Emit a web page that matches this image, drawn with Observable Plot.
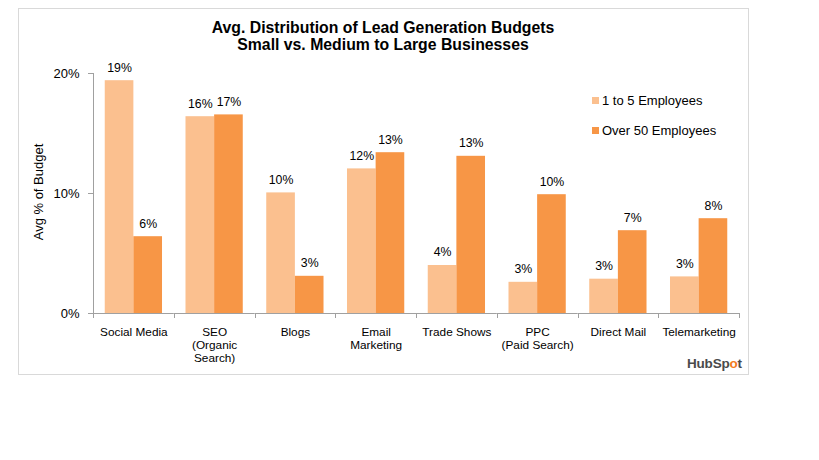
<!DOCTYPE html>
<html><head><meta charset="utf-8">
<script src="https://cdn.jsdelivr.net/npm/d3@7"></script>
<script src="https://cdn.jsdelivr.net/npm/@observablehq/plot@0.6"></script>
<style>
body{margin:0;background:#fff;font-family:Arial,"Liberation Sans",sans-serif;color:#000}
#wrap{position:relative;width:819px;height:460px;overflow:hidden}
#box{position:absolute;left:18px;top:8px;width:731px;height:367px;box-sizing:border-box;border:1px solid #d9d9d9}
#title{position:absolute;left:183px;width:400px;top:19px;text-align:center;font-weight:bold;font-size:15.8px;line-height:17px;white-space:nowrap}
#ytitle{position:absolute;left:38px;top:192px;transform:translate(-50%,-50%) rotate(-90deg);font-size:13px;white-space:nowrap}
#legend{position:absolute;left:592px;top:92px;font-size:13px}
#legend .item{position:relative;height:30px;line-height:17px;white-space:nowrap}
#legend .sw{display:inline-block;width:7px;height:7px;margin-right:3px;vertical-align:1px}
#logo{position:absolute;left:687px;top:356px;font-weight:bold;font-size:13.5px;color:#4a4a4a;letter-spacing:-0.2px}
#logo span{color:#f47b20}
#chart{position:absolute;left:0;top:0}
#chart svg [aria-label^="y-axis"] path,#chart svg [aria-label^="y-axis"] line{stroke:#a0a0a0}
#chart svg [aria-label^="y-axis"] text{font-size:13px}
</style></head><body>
<div id="wrap">
  <div id="box"></div>
  <div id="title">Avg. Distribution of Lead Generation Budgets<br>Small vs. Medium to Large Businesses</div>
  <div id="ytitle">Avg % of Budget</div>
  <div id="chart"></div>
  <div id="legend"></div>
  <div id="logo">HubSp<span>o</span>t</div>
</div>
<script>
const categories = ["Social Media","SEO","Blogs","Email Marketing","Trade Shows","PPC","Direct Mail","Telemarketing"];
const categoryLabels = ["Social Media","SEO\n(Organic\nSearch)","Blogs","Email\nMarketing","Trade Shows","PPC\n(Paid Search)","Direct Mail","Telemarketing"];
const seriesNames = ["1 to 5 Employees","Over 50 Employees"];
const smallBiz = [19.4,16.4,10.05,12.05,4.0,2.6,2.86,3.05];
const largeBiz = [6.4,16.55,3.1,13.4,13.1,9.9,6.9,7.9];
const yTicks = [0,10,20];
const colors = ["#FBC08F","#F79646"];

const rows = categories.flatMap((c,i)=>[
  {category:c, series:seriesNames[0], value:smallBiz[i]},
  {category:c, series:seriesNames[1], value:largeBiz[i]}
]);
const catRows = categories.map((c,i)=>({category:c, label:categoryLabels[i]}));

const chart = Plot.plot({
  width: 819, height: 460,
  marginLeft: 93, marginRight: 80, marginTop: 73, marginBottom: 147,
  style: {fontFamily: "Arial, 'Liberation Sans', sans-serif", fontSize: "12px", color: "#000", background: "transparent", overflow: "visible"},
  fx: {domain: categories, padding: 0, round: false, axis: null},
  x: {domain: seriesNames, paddingInner: 0, paddingOuter: 0.41, round: false, axis: null},
  y: {domain: [0,20], ticks: yTicks, tickFormat: d => d + "%", tickSize: 5, tickPadding: 9, label: null},
  color: {domain: seriesNames, range: colors},
  marks: [
    Plot.barY(rows, {fx: "category", x: "series", y: "value", fill: "series"}),
    Plot.ruleY([0], {stroke: "#a0a0a0"}),
    Plot.text(rows, {fx: "category", x: "series", y: "value", text: d => Math.round(d.value) + "%", dy: -13, fontSize: 12.3}),
    Plot.text(catRows, {fx: "category", text: "label", frameAnchor: "bottom", lineAnchor: "top", dy: 13, fontSize: 11.8, lineHeight: 1.1})
  ]
});
document.getElementById("chart").appendChild(chart);

// axis line and category boundary ticks from the plot's own scales
const fxs = chart.scale("fx"), ys = chart.scale("y");
const x0 = fxs && fxs.range ? fxs.range[0] : 93;
const x1 = fxs && fxs.range ? fxs.range[1] : 739;
const y = d3.scaleLinear().domain(ys.domain).range(ys.range);
const step = (x1 - x0) / categories.length;
const g = d3.select(chart).append("g").attr("stroke", "#a0a0a0").attr("fill", "none");
g.append("line").attr("x1", x0 + 0.5).attr("x2", x0 + 0.5).attr("y1", y(20)).attr("y2", y(0));
d3.range(categories.length + 1).forEach(i => {
  const xx = Math.round(x0 + i * step) + 0.5;
  g.append("line").attr("x1", xx).attr("x2", xx).attr("y1", y(0)).attr("y2", y(0) + 5);
});

// legend
const leg = d3.select("#legend");
seriesNames.forEach((s,i) => {
  const it = leg.append("div").attr("class","item");
  it.append("span").attr("class","sw").style("background", colors[i]);
  it.append("span").text(s);
});
</script>
</body></html>
